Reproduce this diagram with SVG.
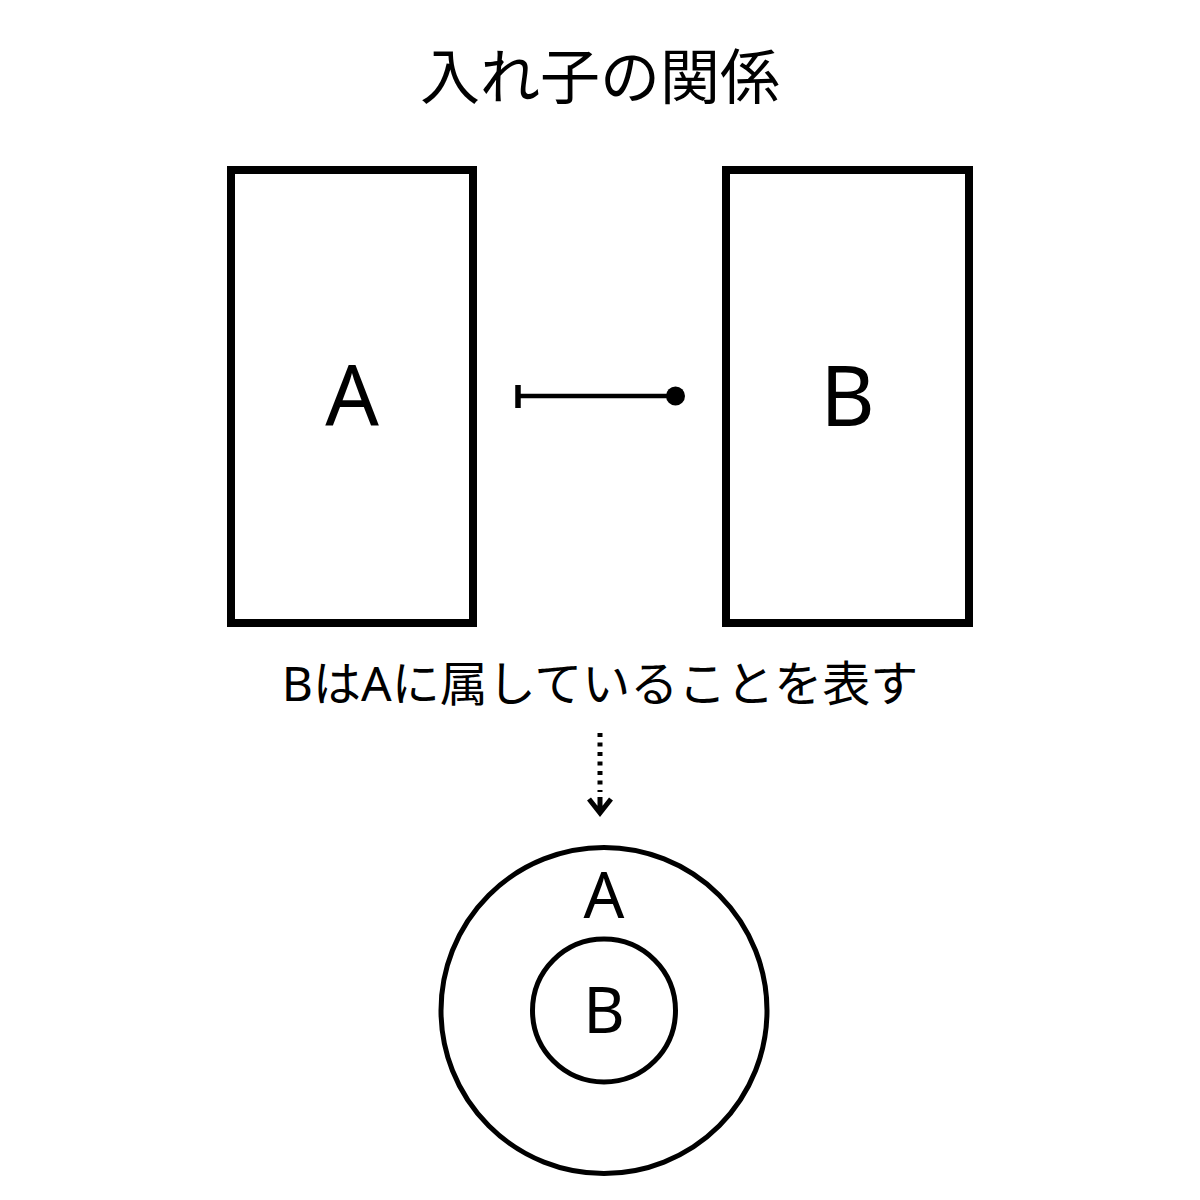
<svg xmlns="http://www.w3.org/2000/svg" width="1200" height="1200" viewBox="0 0 1200 1200">
  <style>
    .box { fill: none; stroke: #000; stroke-width: 8; }
    .ring { fill: none; stroke: #000; stroke-width: 5; }
    .jp { font-family: "Noto Sans CJK JP", "Noto Sans", sans-serif; fill: #000; text-anchor: middle; }
    .cap { font-family: "Noto Sans", "Noto Sans CJK JP", sans-serif; fill: #000; text-anchor: middle; }
    .lt { font-family: "Noto Sans", "Open Sans", sans-serif; fill: #000; text-anchor: middle; }
  </style>
  <rect width="1200" height="1200" fill="#fff"/>
  <g id="title">
    <text class="jp" x="600" y="99" font-size="60">入れ子の関係</text>
  </g>
  <g id="nodeA">
    <rect class="box" x="231" y="170" width="242" height="453"/>
    <text class="lt" x="352" y="426" font-size="84">A</text>
  </g>
  <g id="nodeB">
    <rect class="box" x="726" y="170" width="243" height="453"/>
    <text class="lt" x="847.5" y="426" font-size="84">B</text>
  </g>
  <g id="connectors">
    <line x1="518" y1="396" x2="676" y2="396" stroke="#000" stroke-width="4.5"/>
    <line x1="518" y1="385" x2="518" y2="408" stroke="#000" stroke-width="5.5"/>
    <circle cx="675.5" cy="396" r="9.5" fill="#000"/>
    <line x1="600" y1="733" x2="600" y2="792" stroke="#000" stroke-width="5" stroke-dasharray="4 5.5"/>
    <path d="M589,799 L600,813 L611,799 M600,797 L600,814" fill="none" stroke="#000" stroke-width="5" stroke-linejoin="miter"/>
  </g>
  <g id="caption">
    <text class="cap" x="600" y="701" font-size="48">BはAに属していることを表す</text>
  </g>
  <g id="nested">
    <circle class="ring" cx="604" cy="1010.5" r="163"/>
    <text class="lt" x="604" y="918" font-size="64">A</text>
    <circle class="ring" cx="604" cy="1010.5" r="71.5"/>
    <text class="lt" x="604" y="1033" font-size="64">B</text>
  </g>
</svg>
